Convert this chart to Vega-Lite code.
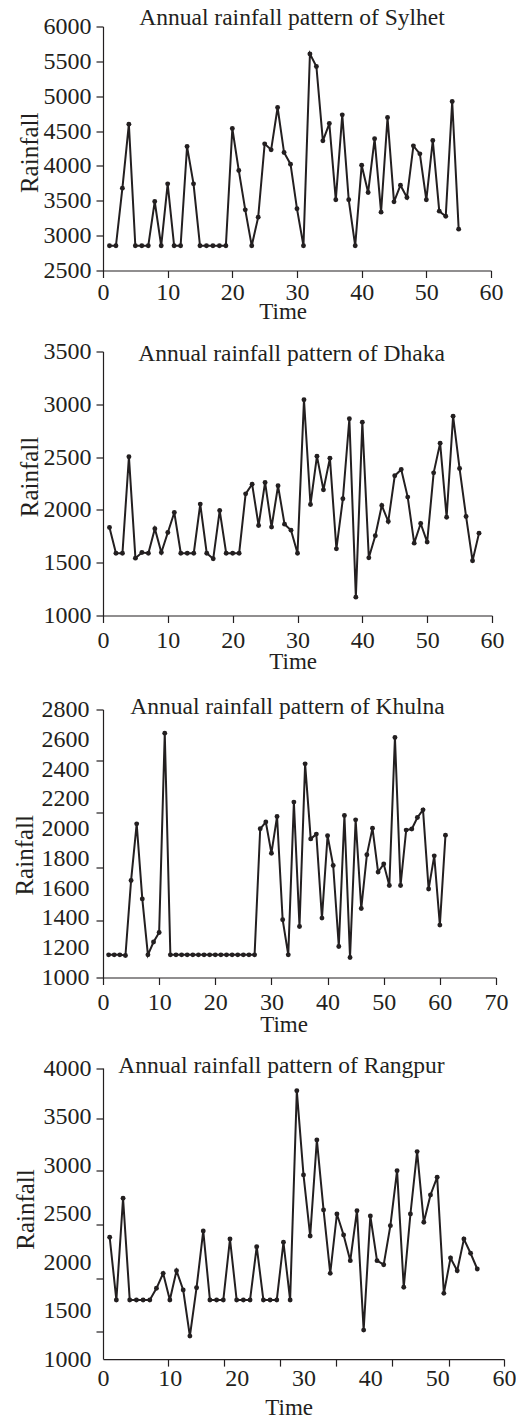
{
  "$schema": "https://vega.github.io/schema/vega-lite/v6.json",
  "background": "white",
  "padding": {"left": 12, "top": 5.5, "right": 0, "bottom": 0},
  "bounds": "flush",
  "spacing": 81,
  "config": {
    "view": {"stroke": null},
    "font": "Liberation Serif",
    "axis": {"grid": false, "domainColor": "#231f20", "domainWidth": 1.2, "tickColor": "#231f20", "tickWidth": 1.2, "tickSize": 7, "labelFont": "Liberation Serif", "labelFontSize": 24, "labelColor": "#231f20", "labelPadding": 5, "labelFlush": false, "labelOverlap": false, "titleFont": "Liberation Serif", "titleFontWeight": "normal", "titleColor": "#231f20"},
    "axisX": {"titleFontSize": 23, "titleBaseline": "alphabetic", "titleAlign": "center", "titleAngle": 0},
    "axisY": {"titleFontSize": 25, "titleBaseline": "alphabetic", "titleAlign": "center", "titleAngle": 270},
    "title": {"font": "Liberation Serif", "fontSize": 23.5, "fontWeight": "normal", "color": "#231f20", "anchor": "middle", "frame": "group"}
  },
  "data": {"values": [
    {"c":"S","t":1,"r":2854},{"c":"S","t":2,"r":2854},{"c":"S","t":3,"r":3681},{"c":"S","t":4,"r":4599},{"c":"S","t":5,"r":2854},{"c":"S","t":6,"r":2854},{"c":"S","t":7,"r":2854},{"c":"S","t":8,"r":3490},{"c":"S","t":9,"r":2854},{"c":"S","t":10,"r":3743},
    {"c":"S","t":11,"r":2854},{"c":"S","t":12,"r":2854},{"c":"S","t":13,"r":4278},{"c":"S","t":14,"r":3743},{"c":"S","t":15,"r":2854},{"c":"S","t":16,"r":2854},{"c":"S","t":17,"r":2854},{"c":"S","t":18,"r":2854},{"c":"S","t":19,"r":2854},{"c":"S","t":20,"r":4537},
    {"c":"S","t":21,"r":3934},{"c":"S","t":22,"r":3370},{"c":"S","t":23,"r":2854},{"c":"S","t":24,"r":3265},{"c":"S","t":25,"r":4317},{"c":"S","t":26,"r":4231},{"c":"S","t":27,"r":4838},{"c":"S","t":28,"r":4192},{"c":"S","t":29,"r":4025},{"c":"S","t":30,"r":3385},
    {"c":"S","t":31,"r":2854},{"c":"S","t":32,"r":5607},{"c":"S","t":33,"r":5426},{"c":"S","t":34,"r":4360},{"c":"S","t":35,"r":4608},{"c":"S","t":36,"r":3514},{"c":"S","t":37,"r":4733},{"c":"S","t":38,"r":3514},{"c":"S","t":39,"r":2854},{"c":"S","t":40,"r":4011},
    {"c":"S","t":41,"r":3619},{"c":"S","t":42,"r":4389},{"c":"S","t":43,"r":3337},{"c":"S","t":44,"r":4694},{"c":"S","t":45,"r":3485},{"c":"S","t":46,"r":3724},{"c":"S","t":47,"r":3547},{"c":"S","t":48,"r":4288},{"c":"S","t":49,"r":4173},{"c":"S","t":50,"r":3514},
    {"c":"S","t":51,"r":4365},{"c":"S","t":52,"r":3351},{"c":"S","t":53,"r":3279},{"c":"S","t":54,"r":4924},{"c":"S","t":55,"r":3093},
    {"c":"D","t":1,"r":1833},{"c":"D","t":2,"r":1590},{"c":"D","t":3,"r":1590},{"c":"D","t":4,"r":2503},{"c":"D","t":5,"r":1543},{"c":"D","t":6,"r":1597},{"c":"D","t":7,"r":1590},{"c":"D","t":8,"r":1822},{"c":"D","t":9,"r":1597},{"c":"D","t":10,"r":1786},
    {"c":"D","t":11,"r":1975},{"c":"D","t":12,"r":1590},{"c":"D","t":13,"r":1590},{"c":"D","t":14,"r":1590},{"c":"D","t":15,"r":2055},{"c":"D","t":16,"r":1590},{"c":"D","t":17,"r":1537},{"c":"D","t":18,"r":1994},{"c":"D","t":19,"r":1590},{"c":"D","t":20,"r":1590},
    {"c":"D","t":21,"r":1590},{"c":"D","t":22,"r":2152},{"c":"D","t":23,"r":2244},{"c":"D","t":24,"r":1852},{"c":"D","t":25,"r":2260},{"c":"D","t":26,"r":1837},{"c":"D","t":27,"r":2228},{"c":"D","t":28,"r":1865},{"c":"D","t":29,"r":1808},{"c":"D","t":30,"r":1590},
    {"c":"D","t":31,"r":3043},{"c":"D","t":32,"r":2051},{"c":"D","t":33,"r":2509},{"c":"D","t":34,"r":2190},{"c":"D","t":35,"r":2490},{"c":"D","t":36,"r":1631},{"c":"D","t":37,"r":2105},{"c":"D","t":38,"r":2863},{"c":"D","t":39,"r":1174},{"c":"D","t":40,"r":2831},
    {"c":"D","t":41,"r":1546},{"c":"D","t":42,"r":1755},{"c":"D","t":43,"r":2042},{"c":"D","t":44,"r":1890},{"c":"D","t":45,"r":2323},{"c":"D","t":46,"r":2383},{"c":"D","t":47,"r":2121},{"c":"D","t":48,"r":1685},{"c":"D","t":49,"r":1871},{"c":"D","t":50,"r":1695},
    {"c":"D","t":51,"r":2351},{"c":"D","t":52,"r":2632},{"c":"D","t":53,"r":1931},{"c":"D","t":54,"r":2888},{"c":"D","t":55,"r":2392},{"c":"D","t":56,"r":1938},{"c":"D","t":57,"r":1518},{"c":"D","t":58,"r":1780},
    {"c":"K","t":1,"r":1152},{"c":"K","t":2,"r":1152},{"c":"K","t":3,"r":1152},{"c":"K","t":4,"r":1148},{"c":"K","t":5,"r":1651},{"c":"K","t":6,"r":2032},{"c":"K","t":7,"r":1528},{"c":"K","t":8,"r":1152},{"c":"K","t":9,"r":1238},{"c":"K","t":10,"r":1302},
    {"c":"K","t":11,"r":2641},{"c":"K","t":12,"r":1152},{"c":"K","t":13,"r":1152},{"c":"K","t":14,"r":1152},{"c":"K","t":15,"r":1152},{"c":"K","t":16,"r":1152},{"c":"K","t":17,"r":1152},{"c":"K","t":18,"r":1152},{"c":"K","t":19,"r":1152},{"c":"K","t":20,"r":1152},
    {"c":"K","t":21,"r":1152},{"c":"K","t":22,"r":1152},{"c":"K","t":23,"r":1152},{"c":"K","t":24,"r":1152},{"c":"K","t":25,"r":1152},{"c":"K","t":26,"r":1152},{"c":"K","t":27,"r":1152},{"c":"K","t":28,"r":1999},{"c":"K","t":29,"r":2044},{"c":"K","t":30,"r":1835},
    {"c":"K","t":31,"r":2081},{"c":"K","t":32,"r":1388},{"c":"K","t":33,"r":1152},{"c":"K","t":34,"r":2178},{"c":"K","t":35,"r":1343},{"c":"K","t":36,"r":2435},{"c":"K","t":37,"r":1931},{"c":"K","t":38,"r":1963},{"c":"K","t":39,"r":1399},{"c":"K","t":40,"r":1952},
    {"c":"K","t":41,"r":1752},{"c":"K","t":42,"r":1208},{"c":"K","t":43,"r":2088},{"c":"K","t":44,"r":1134},{"c":"K","t":45,"r":2059},{"c":"K","t":46,"r":1463},{"c":"K","t":47,"r":1824},{"c":"K","t":48,"r":2003},{"c":"K","t":49,"r":1708},{"c":"K","t":50,"r":1762},
    {"c":"K","t":51,"r":1618},{"c":"K","t":52,"r":2612},{"c":"K","t":53,"r":1618},{"c":"K","t":54,"r":1990},{"c":"K","t":55,"r":1997},{"c":"K","t":56,"r":2075},{"c":"K","t":57,"r":2126},{"c":"K","t":58,"r":1594},{"c":"K","t":59,"r":1817},{"c":"K","t":60,"r":1352},
    {"c":"K","t":61,"r":1956},
    {"c":"R","t":1,"r":2256},{"c":"R","t":2,"r":1609},{"c":"R","t":3,"r":2658},{"c":"R","t":4,"r":1609},{"c":"R","t":5,"r":1609},{"c":"R","t":6,"r":1609},{"c":"R","t":7,"r":1609},{"c":"R","t":8,"r":1730},{"c":"R","t":9,"r":1884},{"c":"R","t":10,"r":1609},
    {"c":"R","t":11,"r":1911},{"c":"R","t":12,"r":1712},{"c":"R","t":13,"r":1237},{"c":"R","t":14,"r":1736},{"c":"R","t":15,"r":2321},{"c":"R","t":16,"r":1609},{"c":"R","t":17,"r":1609},{"c":"R","t":18,"r":1609},{"c":"R","t":19,"r":2238},{"c":"R","t":20,"r":1609},
    {"c":"R","t":21,"r":1609},{"c":"R","t":22,"r":1609},{"c":"R","t":23,"r":2159},{"c":"R","t":24,"r":1609},{"c":"R","t":25,"r":1609},{"c":"R","t":26,"r":1609},{"c":"R","t":27,"r":2204},{"c":"R","t":28,"r":1609},{"c":"R","t":29,"r":3766},{"c":"R","t":30,"r":2899},
    {"c":"R","t":31,"r":2269},{"c":"R","t":32,"r":3260},{"c":"R","t":33,"r":2538},{"c":"R","t":34,"r":1884},{"c":"R","t":35,"r":2496},{"c":"R","t":36,"r":2280},{"c":"R","t":37,"r":2015},{"c":"R","t":38,"r":2530},{"c":"R","t":39,"r":1299},{"c":"R","t":40,"r":2476},
    {"c":"R","t":41,"r":2015},{"c":"R","t":42,"r":1973},{"c":"R","t":43,"r":2376},{"c":"R","t":44,"r":2943},{"c":"R","t":45,"r":1740},{"c":"R","t":46,"r":2496},{"c":"R","t":47,"r":3139},{"c":"R","t":48,"r":2411},{"c":"R","t":49,"r":2692},{"c":"R","t":50,"r":2875},
    {"c":"R","t":51,"r":1678},{"c":"R","t":52,"r":2042},{"c":"R","t":53,"r":1911},{"c":"R","t":54,"r":2238},{"c":"R","t":55,"r":2091},{"c":"R","t":56,"r":1929}
  ]},
  "vconcat": [
    {
      "width": 388, "height": 244,
      "title": {"text": "Annual rainfall pattern of Sylhet", "offset": -15, "dx": -5},
      "transform": [{"filter": "datum.c === 'S'"}],
      "mark": {"type": "line", "color": "#231f20", "strokeWidth": 2, "point": {"filled": true, "color": "#231f20", "size": 24, "opacity": 1}},
      "encoding": {
        "x": {"field": "t", "type": "quantitative", "scale": {"domain": [0, 60], "nice": false, "zero": false},
              "axis": {"title": "Time", "values": [0,10,20,30,40,50,60], "format": "d", "labelPadding": 3, "titleX": 179.7, "titleY": 47.8}},
        "y": {"field": "r", "type": "quantitative", "scale": {"domain": [2500, 6000], "nice": false, "zero": false},
              "axis": {"title": "Rainfall", "values": [2500,3000,3500,4000,4500,5000,5500,6000], "format": "d", "titleX": -65.3, "titleY": 125.8}}
      }
    },
    {
      "width": 389, "height": 264,
      "title": {"text": "Annual rainfall pattern of Dhaka", "offset": -26, "dx": -6},
      "transform": [{"filter": "datum.c === 'D'"}],
      "mark": {"type": "line", "color": "#231f20", "strokeWidth": 2, "point": {"filled": true, "color": "#231f20", "size": 24, "opacity": 1}},
      "encoding": {
        "x": {"field": "t", "type": "quantitative", "scale": {"domain": [0, 60], "nice": false, "zero": false},
              "axis": {"title": "Time", "values": [0,10,20,30,40,50,60], "format": "d", "labelPadding": 6, "titleX": 189.7, "titleY": 52.8}},
        "y": {"field": "r", "type": "quantitative", "scale": {"domain": [1000, 3500], "nice": false, "zero": false},
              "axis": {"title": "Rainfall", "values": [1000,1500,2000,2500,3000,3500], "format": "d", "titleX": -65.3, "titleY": 125}}
      }
    },
    {
      "width": 393, "height": 281,
      "title": {"text": "Annual rainfall pattern of Khulna", "offset": -21.5, "dx": -12},
      "transform": [{"filter": "datum.c === 'K'"}],
      "mark": {"type": "line", "color": "#231f20", "strokeWidth": 2, "point": {"filled": true, "color": "#231f20", "size": 24, "opacity": 1}},
      "encoding": {
        "x": {"field": "t", "type": "quantitative", "scale": {"domain": [0, 70], "nice": false, "zero": false},
              "axis": {"title": "Time", "values": [0,10,20,30,40,50,60,70], "format": "d", "labelPadding": 6, "titleX": 180.5, "titleY": 54.3}},
        "y": {"field": "r", "type": "quantitative", "scale": {"domain": [1000, 2800], "range": [281, 13], "nice": false, "zero": false},
              "axis": {"title": "Rainfall", "values": [1000,1200,1386,1400,1600,1739,1800,2000,2108,2200,2400,2455,2600,2800],
                       "labelExpr": "datum.value % 200 == 0 ? format(datum.value, 'd') : ''", "labelPadding": 7,
                       "tickOpacity": {"condition": {"test": "datum.value % 200 != 0 || datum.value == 1000 || datum.value == 2800", "value": 1}, "value": 0},
                       "titleX": -70.3, "titleY": 158.3}}
      }
    },
    {
      "width": 401, "height": 300.6,
      "title": {"text": "Annual rainfall pattern of Rangpur", "offset": -21, "dx": -22},
      "transform": [{"filter": "datum.c === 'R'"}],
      "mark": {"type": "line", "color": "#231f20", "strokeWidth": 2, "point": {"filled": true, "color": "#231f20", "size": 24, "opacity": 1}},
      "encoding": {
        "x": {"field": "t", "type": "quantitative", "scale": {"domain": [0, 60], "nice": false, "zero": false},
              "axis": {"title": "Time", "values": [0,9.7,10,18.1,20,26.5,30,34.8,40,43.3,50,51.7,60],
                       "labelExpr": "datum.value % 10 == 0 ? format(datum.value, 'd') : ''", "labelPadding": 0,
                       "tickOpacity": {"condition": {"test": "datum.value % 10 != 0 || datum.value == 60", "value": 1}, "value": 0},
                       "titleX": 185.7, "titleY": 55.7}},
        "y": {"field": "r", "type": "quantitative", "scale": {"domain": [1000, 4000], "range": [300.6, 9.6], "nice": false, "zero": false},
              "axis": {"title": "Rainfall", "values": [1000,1289,1500,1833,2000,2383,2500,2940,3000,3477,3500,4000],
                       "labelExpr": "datum.value % 500 == 0 ? format(datum.value, 'd') : ''",
                       "tickOpacity": {"condition": {"test": "datum.value % 500 != 0 || datum.value == 4000", "value": 1}, "value": 0},
                       "titleX": -69.3, "titleY": 150.5}}
      }
    }
  ]
}
